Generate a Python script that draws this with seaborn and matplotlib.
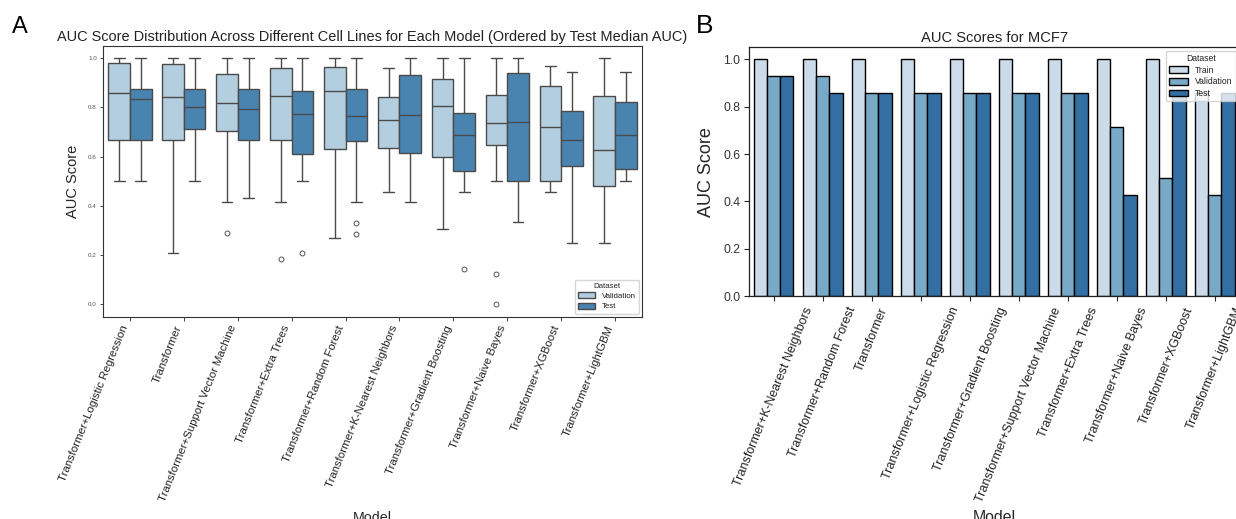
import numpy as np
import pandas as pd
import matplotlib
matplotlib.use("Agg")
import matplotlib.pyplot as plt
import seaborn as sns

# ---------------- Panel A data (box summaries) ----------------
box_models = [
    "Transformer+Logistic Regression", "Transformer", "Transformer+Support Vector Machine",
    "Transformer+Extra Trees", "Transformer+Random Forest", "Transformer+K-Nearest Neighbors",
    "Transformer+Gradient Boosting", "Transformer+Naive Bayes", "Transformer+XGBoost",
    "Transformer+LightGBM",
]
# [whisker low, Q1, median, Q3, whisker high]
val_stats = [
    [0.500, 0.668, 0.857, 0.978, 1.000],
    [0.210, 0.668, 0.843, 0.976, 1.000],
    [0.416, 0.703, 0.819, 0.934, 1.000],
    [0.416, 0.668, 0.846, 0.958, 1.000],
    [0.269, 0.630, 0.865, 0.964, 1.000],
    [0.458, 0.636, 0.750, 0.842, 0.958],
    [0.305, 0.597, 0.804, 0.915, 1.000],
    [0.500, 0.646, 0.736, 0.850, 1.000],
    [0.458, 0.499, 0.722, 0.886, 0.968],
    [0.251, 0.482, 0.627, 0.846, 1.000],
]
test_stats = [
    [0.500, 0.668, 0.832, 0.873, 1.000],
    [0.500, 0.712, 0.800, 0.874, 1.000],
    [0.430, 0.668, 0.792, 0.873, 1.000],
    [0.500, 0.611, 0.772, 0.868, 1.000],
    [0.416, 0.662, 0.764, 0.874, 1.000],
    [0.416, 0.615, 0.770, 0.930, 1.000],
    [0.458, 0.542, 0.686, 0.778, 1.000],
    [0.334, 0.499, 0.742, 0.939, 1.000],
    [0.251, 0.562, 0.668, 0.784, 0.943],
    [0.500, 0.550, 0.686, 0.822, 0.943],
]
val_outliers = [[], [], [0.290], [0.186], [], [], [], [0.124, 0.0], [], []]
test_outliers = [[], [], [], [0.208], [0.332, 0.286], [], [0.142], [], [], []]
box_datasets = ["Validation", "Test"]

# ---------------- Panel B data ----------------
bar_models = [
    "Transformer+K-Nearest Neighbors", "Transformer+Random Forest", "Transformer",
    "Transformer+Logistic Regression", "Transformer+Gradient Boosting",
    "Transformer+Support Vector Machine", "Transformer+Extra Trees",
    "Transformer+Naive Bayes", "Transformer+XGBoost", "Transformer+LightGBM",
]
train_auc = [1.0, 1.0, 1.0, 1.0, 1.0, 1.0, 1.0, 1.0, 1.0, 0.857]
val_auc = [0.929, 0.929, 0.857, 0.857, 0.857, 0.857, 0.857, 0.714, 0.500, 0.429]
test_auc = [0.929, 0.857, 0.857, 0.857, 0.857, 0.857, 0.857, 0.429, 0.857, 0.857]
bar_datasets = ["Train", "Validation", "Test"]


def sample_from_stats(stats, outliers, k=10):
    lo, q1, med, q3, hi = stats
    return list(outliers) + [lo] + [q1] * k + [med] * k + [q3] * k + [hi]


rows = []
for m, vs, ts, vo, to in zip(box_models, val_stats, test_stats, val_outliers, test_outliers):
    for v in sample_from_stats(vs, vo):
        rows.append((m, "Validation", v))
    for v in sample_from_stats(ts, to):
        rows.append((m, "Test", v))
box_df = pd.DataFrame(rows, columns=["Model", "Dataset", "AUC Score"])

bar_df = pd.DataFrame({
    "Model": bar_models * 3,
    "Dataset": ["Train"] * 10 + ["Validation"] * 10 + ["Test"] * 10,
    "AUC Score": train_auc + val_auc + test_auc,
})

sns.set_theme(style="ticks")
plt.rcParams["font.family"] = ["Liberation Sans", "DejaVu Sans"]
plt.rcParams["text.color"] = "#222222"

W, H = 1236, 519
fig = plt.figure(figsize=(W / 100, H / 100), dpi=100)

def px_axes(left, top, right, bottom):
    return fig.add_axes([left / W, 1 - bottom / H, (right - left) / W, (bottom - top) / H])

axA = px_axes(103, 45.7, 642, 316.7)
axB = px_axes(749.4, 47.3, 1239.4, 296.3)

# ---------- Panel A ----------
sns.boxplot(
    data=box_df, x="Model", y="AUC Score", hue="Dataset", order=box_models,
    hue_order=box_datasets, palette="Blues", ax=axA, linewidth=1,
    flierprops=dict(marker="o", markerfacecolor="none", markeredgecolor="#555555",
                    markersize=3.5, markeredgewidth=0.7),
)
axA.set_ylim(-0.05, 1.05)
axA.set_yticks([0.0, 0.2, 0.4, 0.6, 0.8, 1.0])
axA.tick_params(axis="y", labelsize=4.5, length=2.5, width=0.6, pad=2, labelcolor="#555555")
axA.tick_params(axis="x", labelsize=8.2, length=3, width=0.6, pad=2, labelcolor="#222222")
for lab in axA.get_xticklabels():
    lab.set_rotation(68)
    lab.set_ha("right")
axA.set_ylabel("AUC Score", fontsize=10.5, labelpad=6)
axA.set_xlabel("Model", fontsize=10.3)
axA.xaxis.set_label_coords(0.5, -(511 - 316.7) / (316.7 - 45.7), transform=axA.transAxes)
axA.set_title("AUC Score Distribution Across Different Cell Lines for Each Model (Ordered by Test Median AUC)",
              fontsize=10.45, pad=3.5)
for s in axA.spines.values():
    s.set_linewidth(0.8)
    s.set_color("#333333")
legA = axA.legend(title="Dataset", loc="lower right", fontsize=5.7, title_fontsize=5.7,
                  borderaxespad=0.4, handlelength=2.2, handleheight=0.8, labelspacing=0.3,
                  frameon=True)

# ---------- Panel B ----------
sns.barplot(
    data=bar_df, x="Model", y="AUC Score", hue="Dataset", order=bar_models,
    hue_order=bar_datasets, palette="Blues", ax=axB, edgecolor="black", linewidth=1,
)
axB.set_ylim(0, 1.05)
axB.set_yticks([0.0, 0.2, 0.4, 0.6, 0.8, 1.0])
axB.tick_params(axis="y", labelsize=8.8, length=3.5, width=0.8, pad=3, labelcolor="#333333")
axB.tick_params(axis="x", labelsize=9, length=3.5, width=0.8, pad=3, labelcolor="#222222")
for lab in axB.get_xticklabels():
    lab.set_rotation(68)
    lab.set_ha("center")
axB.set_ylabel("AUC Score", fontsize=13, labelpad=6)
axB.set_xlabel("Model", fontsize=11.4)
axB.xaxis.set_label_coords(0.5, -(510 - 296.3) / (296.3 - 47.3), transform=axB.transAxes)
axB.set_title("AUC Scores for MCF7", fontsize=10.6, pad=3.5)
for s in axB.spines.values():
    s.set_linewidth(0.9)
    s.set_color("#222222")
legB = axB.legend(title="Dataset", loc="upper right", fontsize=6.2, title_fontsize=6.2,
                  borderaxespad=0.4, handlelength=2.2, handleheight=0.8, labelspacing=0.3,
                  frameon=True)

fig.text(12 / W, 1 - 33 / H, "A", fontsize=17, ha="left", va="baseline", color="black")
fig.text(696 / W, 1 - 33 / H, "B", fontsize=19, ha="left", va="baseline", color="black")

fig.savefig("out.png", dpi=100)
